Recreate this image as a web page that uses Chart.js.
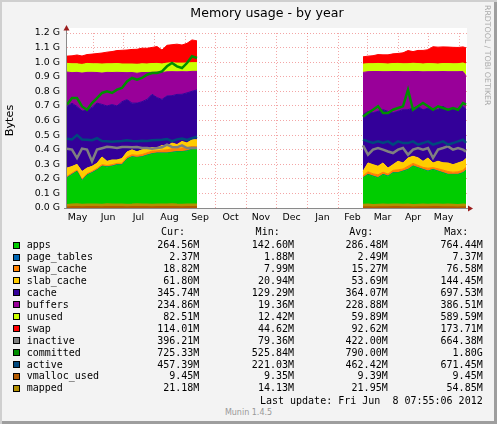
<!DOCTYPE html>
<html>
<head>
<meta charset="utf-8">
<script src="https://cdn.jsdelivr.net/npm/chart.js@4.4.0/dist/chart.umd.min.js"></script>
<style>
  body { margin: 0; background: #fff; }
  #wrap { position: relative; width: 497px; height: 424px; background: #f3f3f3; overflow: hidden;
          box-shadow: inset 2px 2px 0 #cfcfcf, inset -3px -3px 0 #9e9e9e; }
  #chart { position: absolute; left: 0; top: 0; }
  .t { position: absolute; font: 10px "DejaVu Sans Mono", monospace; line-height: 12px; height: 12px; white-space: pre; color: #000; }
  .sq { position: absolute; width: 7px; height: 7px; box-sizing: border-box; border: 1px solid #000; }
  #rrd { position: absolute; left: 483px; top: 5px; writing-mode: vertical-rl; font: 7.8px "DejaVu Sans", sans-serif; line-height: 8px; color: #aaa; }
  #munin { position: absolute; left: 0; width: 497px; text-align: center; top: 408px; font: 8px "DejaVu Sans", sans-serif; line-height: 10px; color: #999; }
</style>
</head>
<body>
<div id="wrap">
  <canvas id="chart" width="497" height="230"></canvas>
  <div id="rrd">RRDTOOL / TOBI OETIKER</div>
  <div id="munin">Munin 1.4.5</div>
</div>
<script>
// day index, counted from 1 May 2011; 200 is the hole between the two runs
const days = [5,10,15,20,25,30,35,40,45,50,55,60,65,70,75,80,85,90,95,100,105,110,115,120,125,130,135,
  200,
  301,306,311,316,321,326,331,336,341,346,351,356,361,366,371,376,381,386,391,396,401,404];

// values in MiB
const apps = [211,234,256,190,230,246,266,292,287,292,302,302,343,358,353,358,369,379,384,384,384,389,394,394,399,410,410,
  null,
  211,234,222,211,234,222,246,246,257,269,293,281,269,257,269,257,246,234,234,234,246,264.56];
const pageTables = [2.6,2.5,2.5,2.4,2.5,2.6,2.5,2.4,2.5,2.5,2.6,2.5,2.5,2.4,2.5,2.5,2.6,2.5,2.5,2.4,2.5,2.6,2.5,2.5,2.4,2.5,2.5,
  null,
  2.4,2.5,2.4,2.3,2.4,2.5,2.4,2.4,2.5,2.4,2.3,2.4,2.5,2.4,2.4,2.5,2.4,2.3,2.4,2.4,2.5,2.37];
const swapCache = [9,8,8,9,8,8,9,10,9,10,9,10,12,14,14,15,16,18,15,20,22,25,20,25,22,20,18,
  null,
  12,18,16,20,15,14,16,20,14,22,18,16,14,20,12,16,18,20,15,18,17,18.82];
const slabCache = [58,47,40,55,40,36,37,54,29,33,24,33,36,34,25,33,27,25,21,33,26,40,29,46,33,47,49,
  null,
  32,62,64,60,65,42,40,60,43,58,50,53,42,72,33,53,51,60,53,62,63,61.8];
const cache = [433,444,407,425,406,414,422,369,389,389,379,399,368,328,342,338,348,374,353,323,353,332,352,331,352,340,350,
  null,
  398,362,364,386,374,398,364,351,374,339,339,362,362,350,374,362,397,374,397,374,386,345.74];
const buffers = [241,215,239,266,266,246,215,220,236,225,236,205,189,215,210,205,189,154,179,189,169,169,159,159,148,140,130,
  null,
  297,279,290,279,267,279,290,279,267,267,256,244,267,256,267,267,244,267,256,267,244,234.86];
const unused = [61,62,60,61,63,60,61,64,60,61,62,60,61,60,63,61,60,62,61,60,61,62,61,60,62,61,61,
  null,
  58,56,55,57,56,54,56,57,55,56,58,56,55,57,56,54,56,57,55,56,60,82.51];
const swap = [51,56,62,59,62,68,72,77,82,86,91,96,98,102,105,110,110,113,118,98,125,127,133,127,138,160,153,
  null,
  51,53,56,62,62,64,68,70,77,92,82,92,95,97,119,118,117,116,116,114,113,114.01];
const inactive = [417,410,351,417,410,328,410,420,430,426,421,429,428,426,428,421,421,417,421,426,445,429,426,440,421,421,421,
  null,
  440,374,410,421,410,397,386,410,421,374,410,421,410,421,351,410,421,433,410,421,410,396.21];
const committed = [726,772,772,713,690,737,772,808,819,808,831,843,889,913,901,913,936,948,948,959,995,1018,995,983,1018,1065,1053,
  null,
  640,667,690,714,667,667,690,702,714,831,690,714,737,714,690,714,702,690,702,690,737,725.33];
const active = [486,481,512,481,479,476,490,470,468,465,468,470,475,470,468,472,470,475,478,480,485,470,482,488,478,490,500,
  null,
  480,468,457,468,457,468,445,468,456,456,468,445,456,468,445,456,468,445,456,468,480,457.39];
const vmallocUsed = [9.4,9.4,9.4,9.4,9.4,9.4,9.4,9.4,9.4,9.4,9.4,9.4,9.4,9.4,9.4,9.4,9.4,9.4,9.4,9.4,9.4,9.4,9.4,9.4,9.4,9.4,9.4,
  null,
  9.35,9.35,9.4,9.4,9.4,9.4,9.4,9.4,9.4,9.4,9.4,9.4,9.4,9.4,9.45,9.45,9.45,9.45,9.45,9.45,9.45,9.45];
const mapped = [20,22,24,21,22,23,22,21,24,22,23,22,21,22,24,23,22,21,22,23,22,24,22,21,23,22,22,
  null,
  21,22,20,21,22,21,23,22,21,22,20,21,22,21,23,22,21,22,21,20,22,21.18];

const names = ['apps','page_tables','swap_cache','slab_cache','cache','buffers','unused','swap',
  'inactive','committed','active','vmalloc_used','mapped'];
const colors = ['#00cc00','#0066b3','#ff8000','#ffcc00','#330099','#990099','#ccff00','#ff0000',
  '#808080','#008f00','#00487d','#b35a00','#b38f00'];
const curVals = ['264.56M','2.37M','18.82M','61.80M','345.74M','234.86M','82.51M','114.01M','396.21M','725.33M','457.39M','9.45M','21.18M'];
const minVals = ['142.60M','1.88M','7.99M','20.94M','129.29M','19.36M','12.42M','44.62M','79.36M','525.84M','221.03M','9.35M','14.13M'];
const avgVals = ['286.48M','2.49M','15.27M','53.69M','364.07M','228.88M','59.89M','92.62M','422.00M','790.00M','462.42M','9.39M','21.95M'];
const maxVals = ['764.44M','7.37M','76.58M','144.45M','697.53M','386.51M','589.59M','173.71M','664.38M','1.80G','671.45M','9.45M','54.85M'];

const monthEdges = [0,31,61,92,123,153,184,214,245,276,305,336,366,397];
const monthLabels = ['May','Jun','Jul','Aug','Sep','Oct','Nov','Dec','Jan','Feb','Mar','Apr','May'];
const yTickG = [0,0.1,0.2,0.3,0.4,0.5,0.6,0.7,0.8,0.9,1.0,1.1,1.2];

const areaSeries = [apps, pageTables, swapCache, slabCache, cache, buffers, unused, swap];
const lineSeries = [inactive, committed, active, vmallocUsed, mapped];

const datasets = [];
areaSeries.forEach((d, i) => {
  datasets.push({
    label: names[i], data: d,
    backgroundColor: colors[i], borderColor: colors[i], borderWidth: 1,
    fill: i === 0 ? 'origin' : '-1', stack: 'mem', order: 20
  });
});
lineSeries.forEach((d, i) => {
  datasets.push({
    label: names[8 + i], data: d,
    borderColor: colors[8 + i], borderWidth: 2.5,
    fill: false, stack: 'line' + i, order: 5 - i
  });
});

const gridColor = 'rgba(220,0,0,0.35)';

// white canvas above the top grid line, axis lines and arrow heads
const frame = {
  id: 'frame',
  beforeDraw(chart) {
    const { ctx, chartArea: a } = chart;
    ctx.save();
    ctx.fillStyle = '#fff';
    ctx.fillRect(a.left, a.top - 5, a.right - a.left, a.bottom - a.top + 5);
    ctx.restore();
  },
  afterDraw(chart) {
    const { ctx, chartArea: a } = chart;
    ctx.save();
    ctx.strokeStyle = '#8a8a8a';
    ctx.lineWidth = 1;
    ctx.beginPath();
    ctx.moveTo(a.left - 0.5, a.bottom + 1);
    ctx.lineTo(a.left - 0.5, a.top - 4);
    ctx.moveTo(a.left - 3, a.bottom + 0.5);
    ctx.lineTo(a.right + 2, a.bottom + 0.5);
    ctx.stroke();
    ctx.fillStyle = '#9b1c1c';
    ctx.beginPath();
    ctx.moveTo(a.left - 0.5, a.top - 8);
    ctx.lineTo(a.left - 3.5, a.top - 2.5);
    ctx.lineTo(a.left + 2.5, a.top - 2.5);
    ctx.closePath();
    ctx.fill();
    ctx.beginPath();
    ctx.moveTo(a.right + 6, a.bottom + 0.5);
    ctx.lineTo(a.right + 1, a.bottom - 2.5);
    ctx.lineTo(a.right + 1, a.bottom + 3.5);
    ctx.closePath();
    ctx.fill();
    ctx.restore();
  }
};

Chart.defaults.font.family = '"DejaVu Sans", sans-serif';
Chart.defaults.color = '#000';

new Chart(document.getElementById('chart').getContext('2d'), {
  type: 'line',
  data: { labels: days, datasets: datasets },
  options: {
    responsive: false,
    animation: false,
    events: [],
    layout: { padding: { left: 0, right: 30, top: 0, bottom: 2 } },
    elements: { point: { radius: 0 }, line: { tension: 0 } },
    plugins: {
      legend: { display: false },
      tooltip: { enabled: false },
      title: {
        display: true, text: 'Memory usage - by year', fullSize: false,
        font: { size: 12.6, weight: 'normal' }, padding: { top: 6.4, bottom: 11.5 }
      }
    },
    scales: {
      x: {
        type: 'linear', min: 5, max: 405,
        afterBuildTicks: s => {
          s.ticks = monthLabels.map((m, i) => ({ value: (monthEdges[i] + monthEdges[i + 1]) / 2 }));
        },
        afterFit: s => { s.height = 20; },
        grid: { display: false, drawTicks: false },
        border: { display: false },
        ticks: { autoSkip: false, maxRotation: 0, padding: 4, font: { size: 9.4 },
                 callback: (v, i) => monthLabels[i] }
      },
      xg: {
        type: 'linear', min: 5, max: 405, position: 'bottom', z: 1,
        afterBuildTicks: s => { s.ticks = monthEdges.slice(1).map(v => ({ value: v })); },
        afterFit: s => { s.height = 0; },
        grid: { color: gridColor, drawTicks: false },
        border: { display: false, dash: [1, 2] },
        ticks: { display: false }
      },
      y: {
        stacked: true, min: 0, max: 1228.8, z: 1,
        afterBuildTicks: s => { s.ticks = yTickG.map(g => ({ value: g * 1024 })); },
        afterFit: s => { s.width = 67; },
        grid: { color: gridColor, drawTicks: false },
        border: { display: false, dash: [1, 2] },
        ticks: { padding: 7, font: { size: 9.4 }, callback: v => (v / 1024).toFixed(1) + ' G' },
        title: { display: true, text: 'Bytes', font: { size: 11.3 }, padding: { top: 3.2, bottom: 0 } }
      }
    }
  },
  plugins: [frame]
});

// legend table under the graph
const wrap = document.getElementById('wrap');
function addText(txt, top, left, right) {
  const el = document.createElement('div');
  el.className = 't';
  el.textContent = txt;
  el.style.top = top + 'px';
  if (left !== null) el.style.left = left + 'px';
  if (right !== null) el.style.right = right + 'px';
  wrap.appendChild(el);
}
const valRights = [297.7, 203, 109.3, 14.3];
['Cur:', 'Min:', 'Avg:', 'Max:'].forEach((h, k) => addText(h, 226.3, null, valRights[k] + 14.3));
names.forEach((n, i) => {
  const c = 245.1 + 11.94 * i;
  const sq = document.createElement('div');
  sq.className = 'sq';
  sq.style.left = '13px';
  sq.style.top = (c - 3.5) + 'px';
  sq.style.background = colors[i];
  wrap.appendChild(sq);
  addText(n, c - 6, 26.7, null);
  [curVals[i], minVals[i], avgVals[i], maxVals[i]].forEach((v, k) => addText(v, c - 6, null, valRights[k]));
});
addText('Last update: Fri Jun  8 07:55:06 2012', 394.7, null, 14.3);
</script>
</body>
</html>
